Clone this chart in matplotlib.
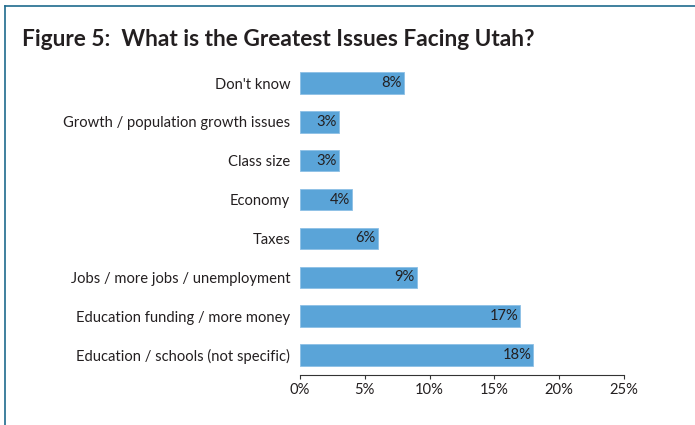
import matplotlib.pyplot as plt
from matplotlib.lines import Line2D
from matplotlib.ticker import FuncFormatter

# ── Survey responses (top to bottom as shown) ────────────────────────────────
issues = [
    "Don't know",
    "Growth / population growth issues",
    "Class size",
    "Economy",
    "Taxes",
    "Jobs / more jobs / unemployment",
    "Education funding / more money",
    "Education / schools (not specific)",
]
percents = [8, 3, 3, 4, 6, 9, 17, 18]
x_ticks = [0, 5, 10, 15, 20, 25]

BAR_COLOR = "#5aa4d8"
FRAME_COLOR = "#1f6b8e"
TEXT_COLOR = "#231f20"

plt.rcParams["font.family"] = ["Lato", "DejaVu Sans"]

fig = plt.figure(figsize=(6.95, 4.25), dpi=100)
ax = fig.add_axes([0.4317, 0.1176, 0.8978 - 0.4317, 0.8504 - 0.1176])

# bottom-up positions so the first issue sits at the top
pos = list(range(len(issues)))[::-1]
ax.barh(pos, percents, height=0.55, color=BAR_COLOR, edgecolor="#8cc0e6", linewidth=0.6)

for y, v in zip(pos, percents):
    ax.text(v - 0.15, y, f"{v}%", ha="right", va="center", fontsize=10.6, color=TEXT_COLOR)

ax.set_yticks(pos)
ax.set_yticklabels(issues, fontsize=10.6, color=TEXT_COLOR)
ax.tick_params(axis="y", length=0, pad=7)

ax.set_xlim(0, 25)
ax.set_ylim(-0.515, len(issues) - 0.5)
ax.set_xticks(x_ticks)
ax.xaxis.set_major_formatter(FuncFormatter(lambda v, _: f"{v:.0f}%"))
ax.tick_params(axis="x", direction="out", length=3, width=0.8, color="#333333",
               labelsize=10.6, labelcolor=TEXT_COLOR, pad=3)

for side in ("top", "right", "left"):
    ax.spines[side].set_visible(False)
ax.spines["bottom"].set_color("#333333")
ax.spines["bottom"].set_linewidth(0.8)

fig.text(22 / 695, 1 - 40 / 425, "Figure 5:  What is the Greatest Issues Facing Utah?",
         fontsize=16.3, fontweight="bold", color=TEXT_COLOR, va="center", ha="left")

# thin frame along the top and left edges
fig.add_artist(Line2D([5 / 695, 1], [1 - 5.5 / 425, 1 - 5.5 / 425],
                      transform=fig.transFigure, color=FRAME_COLOR, linewidth=1.2))
fig.add_artist(Line2D([5 / 695, 5 / 695], [0, 1 - 5.5 / 425],
                      transform=fig.transFigure, color=FRAME_COLOR, linewidth=1.2))

fig.savefig("out.png", dpi=100)
